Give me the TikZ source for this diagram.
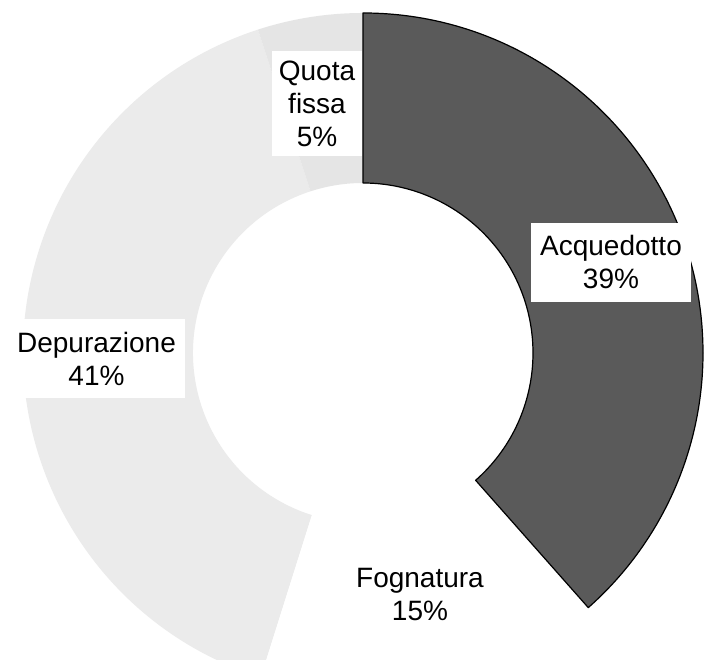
\documentclass[tikz,border=0pt]{standalone}
\usepackage{fontspec}
\setmainfont{Liberation Sans}
\definecolor{acqcol}{HTML}{5A5A5A}
\definecolor{depcol}{HTML}{EBEBEB}
\definecolor{qfcol}{HTML}{E5E5E5}
\begin{document}
\begin{tikzpicture}[x=1pt,y=1pt,
  lbl/.style={fill=white, inner sep=0pt, align=center,
    font=\fontsize{28}{33}\selectfont},
  darkseg/.style={fill=acqcol, draw=black, line width=1.2pt, line join=round}]
\useasboundingbox (0,0) rectangle (705,660);
\fill[white] (0,0) rectangle (705,660);
\begin{scope}
\clip (0,0) rectangle (705,660);
\begin{scope}[shift={(363,307)}]
  % Depurazione
  \fill[depcol] (-107.5:340pt) arc[start angle=-107.5, end angle=-252, radius=340pt]
    -- (108:170pt) arc[start angle=108, end angle=252.5, radius=170pt] -- cycle;
  % Quota fissa
  \fill[qfcol] (108:340pt) arc[start angle=108, end angle=90, radius=340pt]
    -- (90:170pt) arc[start angle=90, end angle=108, radius=170pt] -- cycle;
  % Fognatura
  \fill[white] (-48.5:340pt) arc[start angle=-48.5, end angle=-107.5, radius=340pt]
    -- (-107.5:170pt) arc[start angle=-107.5, end angle=-48.5, radius=170pt] -- cycle;
  % Acquedotto
  \path[darkseg] (90:340pt) arc[start angle=90, end angle=-48.5, radius=340pt]
    -- (-48.5:170pt) arc[start angle=-48.5, end angle=90, radius=170pt] -- cycle;
\end{scope}
\end{scope}
\node[lbl, minimum width=90pt, minimum height=105pt] (qf) at (317,556) {Quota\\fissa\\5\%};
\node[lbl, minimum width=160pt, minimum height=79pt] (acq) at (611,397.5) {Acquedotto\\39\%};
\node[lbl, minimum width=177pt, minimum height=79pt] (dep) at (96.5,301.5) {Depurazione\\41\%};
\node[lbl] (fog) at (420,65) {Fognatura\\15\%};
\end{tikzpicture}
\end{document}
